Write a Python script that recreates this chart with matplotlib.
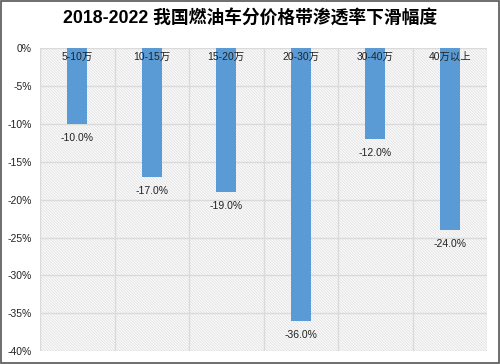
import matplotlib
matplotlib.use("Agg")
import matplotlib.pyplot as plt
from matplotlib.patches import Rectangle
from matplotlib.ticker import FuncFormatter

plt.rcParams["font.family"] = ["Liberation Sans", "Noto Sans CJK SC", "DejaVu Sans"]
plt.rcParams["hatch.color"] = "#dedede"
plt.rcParams["hatch.linewidth"] = 0.5

# ── 数据 ──
CATEGORIES = ["5-10万", "10-15万", "15-20万", "20-30万", "30-40万", "40万以上"]
DECLINE = [-10.0, -17.0, -19.0, -36.0, -12.0, -24.0]
TITLE = "2018-2022 我国燃油车分价格带渗透率下滑幅度"

fig = plt.figure(figsize=(5.0, 3.64), dpi=100)
ax = fig.add_axes([0.080, 0.035, 0.894, 0.833])

n = len(CATEGORIES)
ax.set_xlim(-0.5, n - 0.5)
ax.set_ylim(-40, 0)

# 斜线背景
ax.add_patch(Rectangle((-0.5, -40), n, 40, facecolor="#fbfbfb", hatch="\\" * 12,
                       edgecolor="#dedede", linewidth=0, zorder=0))

# 网格
for y in range(-40, 1, 5):
    ax.axhline(y, color="#dadada", linewidth=1.0, zorder=1)
for i in range(n + 1):
    ax.axvline(i - 0.5, color="#dadada", linewidth=1.0, zorder=1)

ax.bar(range(n), DECLINE, width=0.27, color="#5b9bd5", zorder=3)

for i, (cat, v) in enumerate(zip(CATEGORIES, DECLINE)):
    ax.text(i, -1.2, cat, ha="center", va="center", fontsize=7.5, color="#222222", zorder=4)
    ax.text(i, v - 1.9, f"{v:.1f}%", ha="center", va="center", fontsize=7.5,
            color="#222222", zorder=4)

ax.set_xticks([])
ax.set_yticks(range(-40, 1, 5))
ax.yaxis.set_major_formatter(FuncFormatter(lambda v, _: f"{v:.0f}%"))
ax.tick_params(axis="y", length=0, labelsize=7.5, pad=6, colors="#222222")
for s in ax.spines.values():
    s.set_visible(False)

fig.text(0.5, 0.948, TITLE, ha="center", va="center", fontsize=12.8, fontweight="bold")

# 外框
fig.add_artist(Rectangle((0.002, 0.003), 0.996, 0.994, transform=fig.transFigure,
                         fill=False, edgecolor="#555555", linewidth=1.2))

fig.savefig("out.png", dpi=100)
